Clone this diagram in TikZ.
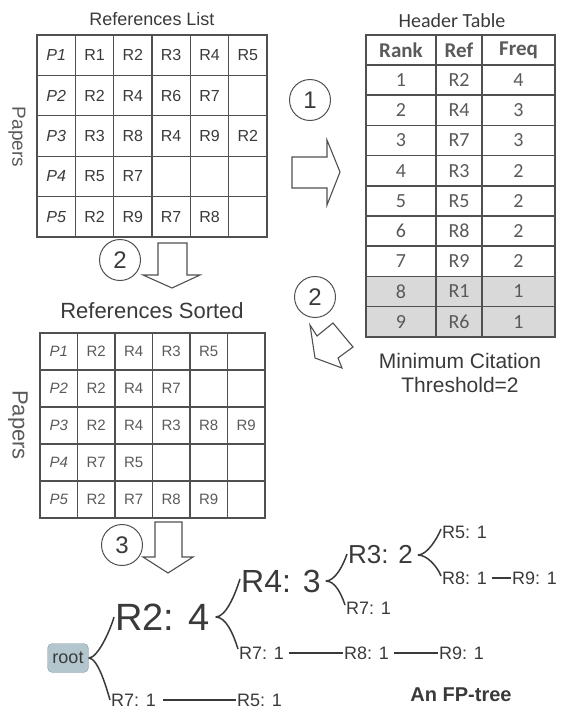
\documentclass[tikz,border=0pt]{standalone}
\usepackage{fontspec}
\setmainfont{Liberation Sans}
\newfontfamily\carl{Carlito}
\definecolor{ink}{HTML}{3A3A3A}
\definecolor{inklight}{HTML}{5A5A5A}
\definecolor{lineg}{HTML}{505050}
\definecolor{rootfill}{HTML}{B3C6CE}
\definecolor{grayrow}{HTML}{D9D9D9}
\newcommand{\fsz}[1]{\fontsize{#1}{#1}\selectfont}
\begin{document}
\begin{tikzpicture}[x=1pt,y=-1pt,
  cellA/.style={draw=lineg, line width=1.2pt, minimum width=38.33pt, minimum height=40.4pt, inner sep=0pt, font=\fsz{16}, text=ink},
  cellB/.style={draw=lineg, line width=1.2pt, minimum width=37.5pt, minimum height=37pt, inner sep=0pt, font=\fsz{15}, text=inklight},
  hcell/.style={draw=lineg, line width=1.5pt, minimum height=30.2pt, inner sep=0pt, font=\carl\fsz{20}, text=inklight},
  title/.style={anchor=base, text=ink, inner sep=0pt},
  blockarrow/.style={draw=lineg, fill=white, line width=1.1pt, line join=miter},
  stepcirc/.style={draw=lineg, line width=1pt, circle, minimum size=41pt, inner sep=0pt, font=\fsz{24}, text=ink},
  tnode/.style={anchor=west, inner sep=1pt, text=ink},
  small/.style={tnode, font=\fsz{18}},
  brace/.style={draw=ink, line width=1.5pt},
  tline/.style={draw=ink, line width=1.6pt}
]
\useasboundingbox (0,0) rectangle (566,713);

% ---- References List ----
\node[title, font=\fsz{18}] (tlist) at (152,25) {References List};
\node[rotate=-90, text=inklight, font=\fsz{19}] (pap1) at (17,137) {Papers};
\foreach \row [count=\r from 0] in {{P1,R1,R2,R3,R4,R5},{P2,R2,R4,R6,R7,{}},{P3,R3,R8,R4,R9,R2},{P4,R5,R7,{},{},{}},{P5,R2,R9,R7,R8,{}}}
  \foreach \c [count=\k from 0] in \row
    \node[cellA] (L-\r-\k) at ({37+38.33*(\k+0.5)},{35+40.4*(\r+0.5)}) {\ifnum\k=0 \itshape\fi\c};

% ---- Header Table ----
\node[title, font=\carl\fsz{20}] (thead) at (452,27) {Header Table};
\node[hcell, minimum width=70pt, font=\carl\bfseries\fsz{21}] (H-0-1) at (401,50) {Rank};
\node[hcell, minimum width=46pt, font=\carl\bfseries\fsz{21}] (H-0-2) at (459,50) {Ref};
\node[hcell, minimum width=73pt, font=\carl\bfseries\fsz{21}] (H-0-3) at (518.5,50) {Freq};
\foreach \rk/\rf/\fq [count=\i] in {1/R2/4,2/R4/3,3/R7/3,4/R3/2,5/R5/2,6/R8/2,7/R9/2,8/R1/1,9/R6/1}{
  \ifnum\i>7 \def\bg{grayrow}\else\def\bg{white}\fi
  \node[hcell, minimum width=70pt, fill=\bg] (H-\i-1) at (401,{65+30.2*(\i-0.5)}) {\rk};
  \node[hcell, minimum width=46pt, fill=\bg] (H-\i-2) at (459,{65+30.2*(\i-0.5)}) {\rf};
  \node[hcell, minimum width=73pt, fill=\bg] (H-\i-3) at (518.5,{65+30.2*(\i-0.5)}) {\fq};
}
\node[title, font=\fsz{21}] (thr1) at (460,368) {Minimum Citation};
\node[title, font=\fsz{21}] (thr2) at (460,392) {Threshold=2};

% ---- step 1 ----
\node[stepcirc] (c1) at (310,100) {1};
\draw[blockarrow] (292,157) -- (327,157) -- (327,140) -- (340,172) -- (327,205) -- (327,188) -- (292,188) -- cycle;

% ---- step 2 (threshold) ----
\node[stepcirc] (c2r) at (315,297) {2};
\draw[blockarrow] (310,325) -- (317,336) -- (333,323) -- (353,347) -- (338,358) -- (342,368) -- (315,358) -- cycle;

% ---- step 2 (sort) ----
\node[stepcirc] (c2) at (120,260) {2};
\draw[blockarrow] (158,243) -- (187,243) -- (187,275) -- (200,275) -- (172,288) -- (143,275) -- (158,275) -- cycle;

% ---- References Sorted ----
\node[title, font=\fsz{22}] (tsort) at (152,318) {References Sorted};
\node[rotate=-90, text=inklight, font=\fsz{22}] (pap2) at (18,425) {Papers};
\foreach \row [count=\r from 0] in {{P1,R2,R4,R3,R5,{}},{P2,R2,R4,R7,{},{}},{P3,R2,R4,R3,R8,R9},{P4,R7,R5,{},{},{}},{P5,R2,R7,R8,R9,{}}}
  \foreach \c [count=\k from 0] in \row
    \node[cellB] (S-\r-\k) at ({40+37.5*(\k+0.5)},{333+37*(\r+0.5)}) {\ifnum\k=0 \itshape\fi\c};

% ---- step 3 ----
\node[stepcirc] (c3) at (122,545) {3};
\draw[blockarrow] (155,522) -- (182,522) -- (182,557) -- (193,557) -- (168,573) -- (143,557) -- (155,557) -- cycle;

% ---- FP-tree ----
\node[fill=rootfill, draw=rootfill!80!black, line width=0.4pt, rounded corners=5pt, minimum width=41pt, minimum height=29pt, inner sep=0pt, font=\fsz{18}, text=ink] (root) at (68,658) {root};
\node[tnode, font=\fsz{38}] (nR2) at (114,617) {R2: 4};
\node[small] (nR7a) at (110,700) {R7: 1};
\node[small] (nR5a) at (236,700) {R5: 1};
\node[tnode, font=\fsz{32}] (nR4) at (240,581) {R4: 3};
\node[small] (nR7b) at (238,653) {R7: 1};
\node[small] (nR8b) at (343,653) {R8: 1};
\node[small] (nR9b) at (438,653) {R9: 1};
\node[tnode, font=\fsz{26}] (nR3) at (347,555) {R3: 2};
\node[small] (nR7c) at (345,608) {R7: 1};
\node[small] (nR5c) at (441,532) {R5: 1};
\node[small] (nR8a) at (441,578) {R8: 1};
\node[small] (nR9a) at (511,578) {R9: 1};
\node[font=\bfseries\fsz{20}, text=ink] (cap) at (461,695) {An FP-tree};

% braces
\draw[brace] (root.east) .. controls +(9,0) and +(-4,14) .. (nR2.west);
\draw[brace] (root.east) .. controls +(9,0) and +(-4,-14) .. (nR7a.west);
\draw[brace] ([xshift=5pt]nR2.east) .. controls +(10,0) and +(-5,16) .. ([yshift=2pt]nR4.west);
\draw[brace] ([xshift=5pt]nR2.east) .. controls +(10,0) and +(-5,-16) .. ([yshift=4pt]nR7b.west);
\draw[brace] ([xshift=4pt]nR4.east) .. controls +(9,0) and +(-4,12) .. ([yshift=1pt]nR3.west);
\draw[brace] ([xshift=4pt]nR4.east) .. controls +(9,0) and +(-4,-12) .. ([yshift=3pt]nR7c.west);
\draw[brace] ([xshift=4pt]nR3.east) .. controls +(9,0) and +(-4,10) .. ([yshift=3pt]nR5c.west);
\draw[brace] ([xshift=4pt]nR3.east) .. controls +(9,0) and +(-4,-10) .. ([yshift=2pt]nR8a.west);

% horizontal links
\draw[tline] ([xshift=6pt]nR7a.east) -- (nR5a.west);
\draw[tline] ([xshift=4pt]nR7b.east) -- (nR8b.west);
\draw[tline] ([xshift=4pt]nR8b.east) -- (nR9b.west);
\draw[tline] ([xshift=4pt]nR8a.east) -- (nR9a.west);
\end{tikzpicture}
\end{document}
